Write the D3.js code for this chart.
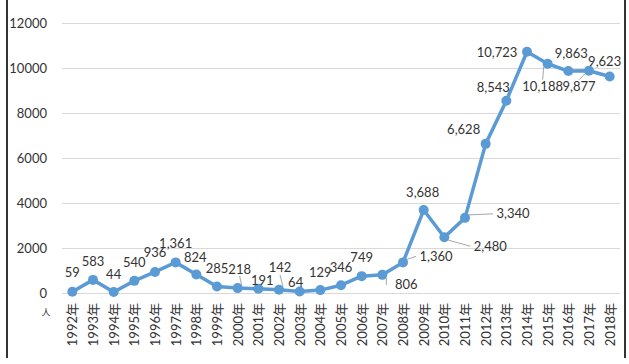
<!DOCTYPE html>
<html>
<head>
<meta charset="utf-8">
<script src="https://cdn.jsdelivr.net/npm/d3@7"></script>
<style>
  body { margin: 0; background: #fff; }
  text { font-family: Lato, "Noto Sans CJK SC", sans-serif; fill: #333; }
</style>
</head>
<body>
<svg id="chart" width="629" height="364"></svg>
<script>
let years = ["1992年", "1993年", "1994年", "1995年", "1996年", "1997年", "1998年",
  "1999年", "2000年", "2001年", "2002年", "2003年", "2004年", "2005年", "2006年",
  "2007年", "2008年", "2009年", "2010年", "2011年", "2012年", "2013年", "2014年",
  "2015年", "2016年", "2017年", "2018年"];
let counts = [59, 583, 44, 540, 936, 1361, 824, 285, 218, 191, 142, 64, 129, 346,
  749, 806, 1360, 3688, 2480, 3340, 6628, 8543, 10723, 10188, 9863, 9877, 9623];
let yTicks = [0, 2000, 4000, 6000, 8000, 10000, 12000];

// label placement relative to each point: [dx, dy, leader line?]
let labelOffsets = [
  [0, -19, 0], [0, -18, 0], [0, -18, 0], [0, -18, 0], [0, -19, 0], [0, -19, 0],
  [-1, -17, 0], [0, -18, 0], [2, -19, 1], [4, -8, 0], [1, -22, 1], [-4, -9, 0],
  [0, -18, 0], [0, -18, 0], [0, -19, 0], [24, 10, 1], [33, -6, 1], [-1, -18, 0],
  [46, 9, 1], [48, -4, 1], [-22, -14, 0], [-13, -13, 0], [-30, 1, 0],
  [-5, 23, 1], [3, -18, 0], [-10, 16, 1], [-5, -15, 0]
];

let svg = d3.select("#chart");

// frame lines on the sides
svg.append("line").attr("x1", 7).attr("x2", 7).attr("y1", 0).attr("y2", 358)
  .attr("stroke", "#333").attr("stroke-width", 2);
svg.append("line").attr("x1", 625).attr("x2", 625).attr("y1", 0).attr("y2", 358)
  .attr("stroke", "#333").attr("stroke-width", 2);

let x = d3.scalePoint().domain(years).range([62, 620]).padding(0.5);
let y = d3.scaleLinear().domain([0, 12000]).range([293, 23]);

// gridlines + y labels
let yAxis = svg.append("g")
  .attr("transform", "translate(62,0)")
  .call(d3.axisLeft(y).tickValues(yTicks).tickSize(-558).tickPadding(15)
    .tickFormat(d3.format("d")));
yAxis.select(".domain").remove();
yAxis.selectAll(".tick line").attr("stroke", "#d9d9d9");
yAxis.selectAll(".tick text").attr("font-size", 13).attr("font-family", "Lato")
  .attr("fill", "#333");

// x labels
let xAxis = svg.append("g")
  .attr("transform", "translate(0,293)")
  .call(d3.axisBottom(x).tickSize(0).tickPadding(0));
xAxis.select(".domain").remove();
xAxis.selectAll(".tick text")
  .attr("font-size", 13)
  .attr("font-family", "Lato, 'Noto Sans CJK SC'")
  .attr("fill", "#333")
  .attr("transform", "rotate(-90)")
  .attr("text-anchor", "end")
  .attr("x", -10)
  .attr("y", 0)
  .attr("dy", "0.35em");

svg.append("text")
  .attr("x", 46).attr("y", 316)
  .attr("text-anchor", "middle")
  .attr("font-size", 9)
  .attr("fill", "#666")
  .text("人");

let line = d3.line()
  .x(function (d, i) { return x(years[i]); })
  .y(function (d) { return y(d); });

svg.append("path")
  .datum(counts)
  .attr("d", line)
  .attr("fill", "none")
  .attr("stroke", "#5b9bd5")
  .attr("stroke-width", 3.5)
  .attr("stroke-linejoin", "round");

svg.selectAll(".dot")
  .data(counts)
  .enter()
  .append("circle")
  .attr("class", "dot")
  .attr("cx", function (d, i) { return x(years[i]); })
  .attr("cy", function (d) { return y(d); })
  .attr("r", 5)
  .attr("fill", "#5b9bd5");

// leader lines
counts.forEach(function (d, i) {
  let o = labelOffsets[i];
  if (!o[2]) return;
  let px = x(years[i]), py = y(d);
  let lx = px + o[0], ly = py + o[1];
  let ex, ey;
  if (Math.abs(o[0]) > 15) {
    ex = lx - Math.sign(o[0]) * 20;
    ey = ly;
  } else {
    ex = lx;
    ey = ly + Math.sign(-o[1]) * 7;
  }
  svg.append("polyline")
    .attr("points", [[px + Math.sign(o[0]) * 4, py + Math.sign(o[1]) * 3], [ex, ey]].join(" "))
    .attr("fill", "none")
    .attr("stroke", "#a6a6a6")
    .attr("stroke-width", 1);
});

svg.selectAll(".lbl")
  .data(counts)
  .enter()
  .append("text")
  .attr("class", "lbl")
  .attr("x", function (d, i) { return x(years[i]) + labelOffsets[i][0]; })
  .attr("y", function (d, i) { return y(d) + labelOffsets[i][1]; })
  .attr("dy", "0.35em")
  .attr("text-anchor", "middle")
  .attr("font-size", 13)
  .attr("fill", "#333")
  .text(function (d) { return d3.format(",")(d); });
</script>
</body>
</html>
